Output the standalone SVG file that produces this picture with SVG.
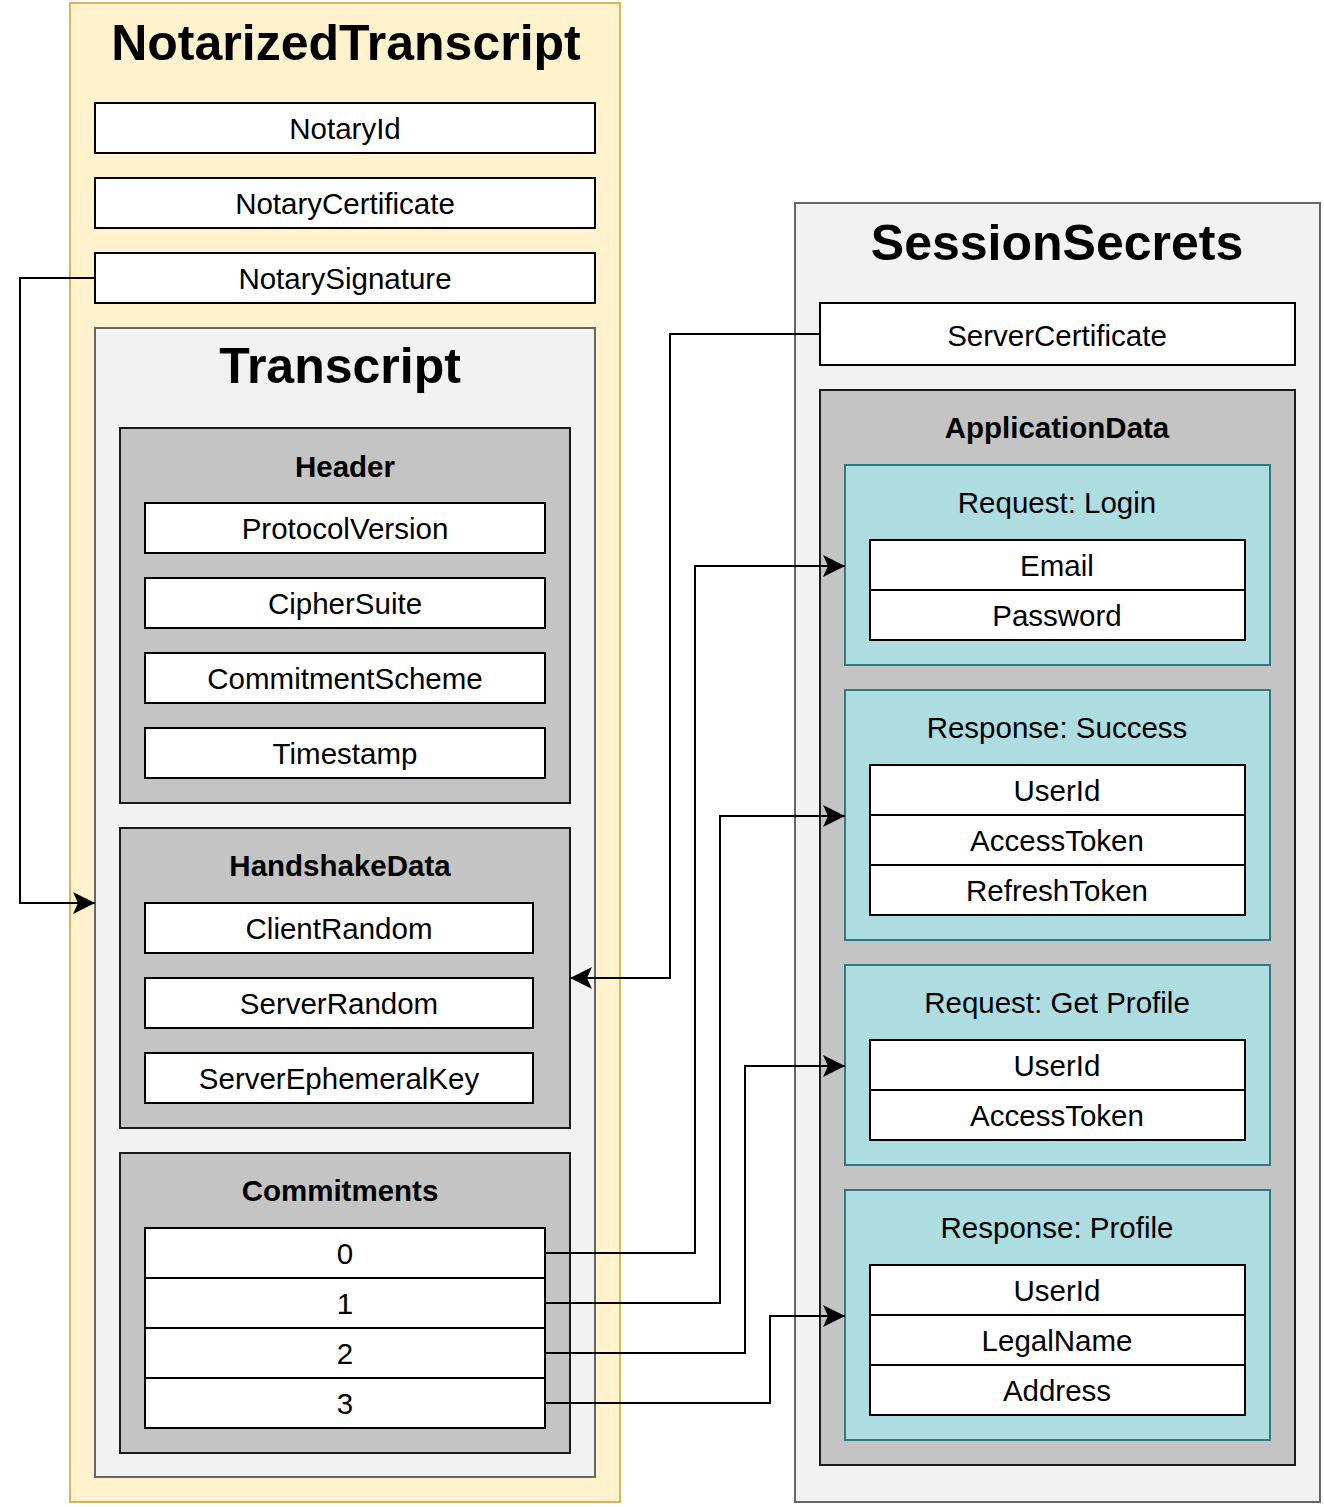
<svg xmlns="http://www.w3.org/2000/svg" width="1324" height="1507" viewBox="0 0 1324 1507">
<defs>
<style>
text{font-family:"Liberation Sans",Helvetica,Arial,sans-serif;font-size:29.5px;fill:#000;text-anchor:middle}
.big{font-size:50px;font-weight:bold}
.b{font-weight:bold}
.yel{fill:#fff2cc;stroke:#d6b656;stroke-width:2}
.lg{fill:#f2f2f2;stroke:#666666;stroke-width:2}
.dg{fill:#c4c4c4;stroke:#1a1a1a;stroke-width:2}
.teal{fill:#addde1;stroke:#2e7a80;stroke-width:2}
.w{fill:#ffffff;stroke:#000000;stroke-width:2}
.c{fill:none;stroke:#000;stroke-width:2;marker-end:url(#arr)}
</style>
<marker id="arr" markerUnits="userSpaceOnUse" markerWidth="24" markerHeight="24" refX="22" refY="11" orient="auto" viewBox="0 0 24 24">
<path d="M22,11 L0,0 L5,11 L0,22 Z" fill="#000"/>
</marker>
</defs>

<g id="NotarizedTranscript">
<rect class="yel" x="70" y="3" width="550" height="1499"/>
<text class="big" x="346" y="60">NotarizedTranscript</text>
</g>
<g id="NotaryId"><rect class="w" x="95" y="103" width="500" height="50"/><text x="345" y="139">NotaryId</text></g>
<g id="NotaryCertificate"><rect class="w" x="95" y="178" width="500" height="50"/><text x="345" y="214">NotaryCertificate</text></g>
<g id="NotarySignature"><rect class="w" x="95" y="253" width="500" height="50"/><text x="345" y="289">NotarySignature</text></g>

<g id="Transcript">
<rect class="lg" x="95" y="328" width="500" height="1149"/>
<text class="big" x="340" y="383">Transcript</text>
</g>

<g id="Header">
<rect class="dg" x="120" y="428" width="450" height="375"/>
<text class="b" x="345" y="477">Header</text>
</g>
<g id="ProtocolVersion"><rect class="w" x="145" y="503" width="400" height="50"/><text x="345" y="539">ProtocolVersion</text></g>
<g id="CipherSuite"><rect class="w" x="145" y="578" width="400" height="50"/><text x="345" y="614">CipherSuite</text></g>
<g id="CommitmentScheme"><rect class="w" x="145" y="653" width="400" height="50"/><text x="345" y="689">CommitmentScheme</text></g>
<g id="Timestamp"><rect class="w" x="145" y="728" width="400" height="50"/><text x="345" y="764">Timestamp</text></g>

<g id="HandshakeData">
<rect class="dg" x="120" y="828" width="450" height="300"/>
<text class="b" x="340" y="876">HandshakeData</text>
</g>
<g id="ClientRandom"><rect class="w" x="145" y="903" width="388" height="50"/><text x="339" y="939">ClientRandom</text></g>
<g id="ServerRandom"><rect class="w" x="145" y="978" width="388" height="50"/><text x="339" y="1014">ServerRandom</text></g>
<g id="ServerEphemeralKey"><rect class="w" x="145" y="1053" width="388" height="50"/><text x="339" y="1089">ServerEphemeralKey</text></g>

<g id="Commitments">
<rect class="dg" x="120" y="1153" width="450" height="300"/>
<text class="b" x="340" y="1201">Commitments</text>
</g>
<g id="C0"><rect class="w" x="145" y="1228" width="400" height="50"/><text x="345" y="1264">0</text></g>
<g id="C1"><rect class="w" x="145" y="1278" width="400" height="50"/><text x="345" y="1314">1</text></g>
<g id="C2"><rect class="w" x="145" y="1328" width="400" height="50"/><text x="345" y="1364">2</text></g>
<g id="C3"><rect class="w" x="145" y="1378" width="400" height="50"/><text x="345" y="1414">3</text></g>

<g id="SessionSecrets">
<rect class="lg" x="795" y="203" width="525" height="1299"/>
<text class="big" x="1057" y="260">SessionSecrets</text>
</g>
<g id="ServerCertificate"><rect class="w" x="820" y="303" width="475" height="62"/><text x="1057" y="346">ServerCertificate</text></g>

<g id="ApplicationData">
<rect class="dg" x="820" y="390" width="475" height="1075"/>
<text class="b" x="1057" y="438">ApplicationData</text>
</g>

<g id="RequestLogin">
<rect class="teal" x="845" y="465" width="425" height="200"/>
<text x="1057" y="513">Request: Login</text>
</g>
<g id="Email"><rect class="w" x="870" y="540" width="375" height="50"/><text x="1057" y="576">Email</text></g>
<g id="Password"><rect class="w" x="870" y="590" width="375" height="50"/><text x="1057" y="626">Password</text></g>

<g id="ResponseSuccess">
<rect class="teal" x="845" y="690" width="425" height="250"/>
<text x="1057" y="738">Response: Success</text>
</g>
<g id="UserId1"><rect class="w" x="870" y="765" width="375" height="50"/><text x="1057" y="801">UserId</text></g>
<g id="AccessToken1"><rect class="w" x="870" y="815" width="375" height="50"/><text x="1057" y="851">AccessToken</text></g>
<g id="RefreshToken"><rect class="w" x="870" y="865" width="375" height="50"/><text x="1057" y="901">RefreshToken</text></g>

<g id="RequestGetProfile">
<rect class="teal" x="845" y="965" width="425" height="200"/>
<text x="1057" y="1013">Request: Get Profile</text>
</g>
<g id="UserId2"><rect class="w" x="870" y="1040" width="375" height="50"/><text x="1057" y="1076">UserId</text></g>
<g id="AccessToken2"><rect class="w" x="870" y="1090" width="375" height="50"/><text x="1057" y="1126">AccessToken</text></g>

<g id="ResponseProfile">
<rect class="teal" x="845" y="1190" width="425" height="250"/>
<text x="1057" y="1238">Response: Profile</text>
</g>
<g id="UserId3"><rect class="w" x="870" y="1265" width="375" height="50"/><text x="1057" y="1301">UserId</text></g>
<g id="LegalName"><rect class="w" x="870" y="1315" width="375" height="50"/><text x="1057" y="1351">LegalName</text></g>
<g id="Address"><rect class="w" x="870" y="1365" width="375" height="50"/><text x="1057" y="1401">Address</text></g>

<g id="connectors">
<path class="c" d="M95,278 H20 V903 H95"/>
<path class="c" d="M820,334 H670 V978 H570"/>
<path class="c" d="M545,1253 H695 V566 H845"/>
<path class="c" d="M545,1303 H720 V816 H845"/>
<path class="c" d="M545,1353 H745 V1066 H845"/>
<path class="c" d="M545,1403 H770 V1316 H845"/>
</g>
</svg>
